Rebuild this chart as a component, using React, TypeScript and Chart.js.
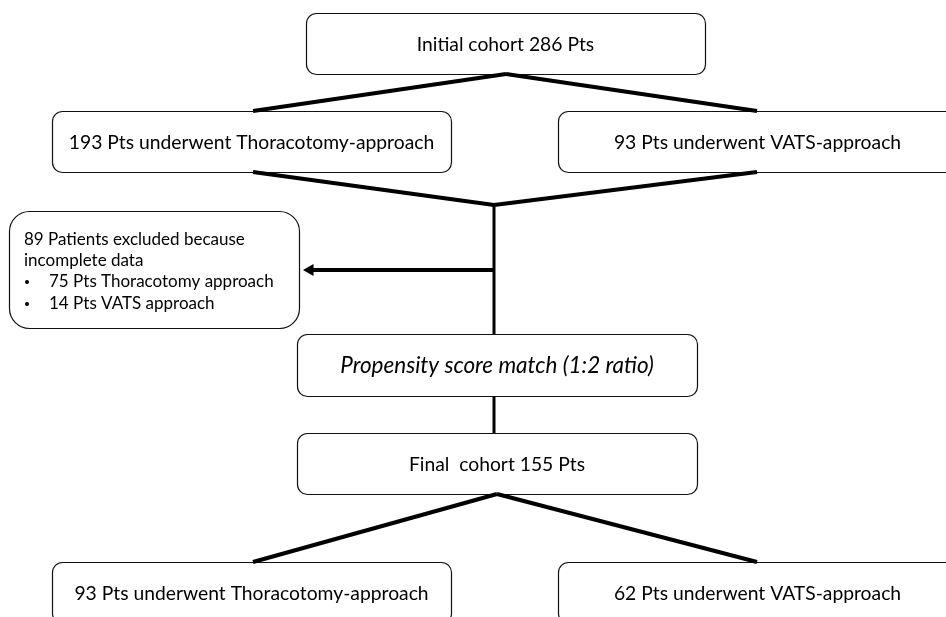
import React, { useEffect, useRef } from "react";
import { Chart, registerables } from "chart.js";

Chart.register(...registerables);

// ---- Text content ----
const boxLabels = [
  "Initial cohort 286 Pts",
  "193 Pts underwent Thoracotomy-approach",
  "93 Pts underwent VATS-approach",
  "Propensity score match (1:2 ratio)",
  "Final  cohort 155 Pts",
  "93 Pts underwent Thoracotomy-approach",
  "62 Pts underwent VATS-approach",
];
const boxItalic = [false, false, false, true, false, false, false];

const exclusionTitle = ["89 Patients excluded because", "incomplete data"];
const exclusionBullets = ["75 Pts Thoracotomy approach", "14 Pts VATS approach"];

// ---- Layout (diagram units mapped through hidden linear scales) ----
const BOX_LAYOUT: number[][] = [
  [306, 13, 705, 74],
  [52, 111, 451, 172],
  [558, 111, 957, 172],
  [297, 334, 697, 396],
  [297, 433, 697, 494],
  [52, 562, 451, 623],
  [558, 562, 957, 623],
];
const BOX_TEXT_Y = [45, 143, 143, 366, 465, 594, 594];
const BOX_FONT_PX = [19.3, 19.3, 19.3, 22.5, 19.3, 19.3, 19.3];
const EXCL_BOX = [9, 211, 299, 328];
const EXCL_LINES_Y = [240, 261, 282, 304];
const EXCL_TEXT_X = 24;
const EXCL_BULLET_X = 27;
const EXCL_INDENT_X = 49;

const CONNECTORS: { pts: number[][]; w: number }[] = [
  { pts: [[506, 74], [253, 111]], w: 4 },
  { pts: [[506, 74], [757, 111]], w: 4 },
  { pts: [[253, 172], [494, 205]], w: 4 },
  { pts: [[757, 172], [494, 205]], w: 4 },
  { pts: [[494, 204], [494, 334]], w: 3 },
  { pts: [[494, 396], [494, 433]], w: 3 },
  { pts: [[497, 494], [253, 562]], w: 4 },
  { pts: [[497, 494], [757, 562]], w: 4 },
];
const ARROW = [[493, 270], [310, 270]];

const FONT = "Lato, 'Open Sans', sans-serif";

function roundRect(ctx: CanvasRenderingContext2D, x0: number, y0: number, x1: number, y1: number, r: number) {
  ctx.beginPath();
  ctx.moveTo(x0 + r, y0);
  ctx.lineTo(x1 - r, y0);
  ctx.arcTo(x1, y0, x1, y0 + r, r);
  ctx.lineTo(x1, y1 - r);
  ctx.arcTo(x1, y1, x1 - r, y1, r);
  ctx.lineTo(x0 + r, y1);
  ctx.arcTo(x0, y1, x0, y1 - r, r);
  ctx.lineTo(x0, y0 + r);
  ctx.arcTo(x0, y0, x0 + r, y0, r);
  ctx.closePath();
}

const flowPlugin = {
  id: "flowBoxes",
  beforeDatasetsDraw(chart: any) {
    const { ctx } = chart;
    const xs = chart.scales.x;
    const ys = chart.scales.y;
    ctx.save();
    ctx.lineWidth = 1.2;
    ctx.strokeStyle = "#111";
    ctx.fillStyle = "#fff";
    const all = [...BOX_LAYOUT.map((b) => ({ b, r: 10 })), { b: EXCL_BOX, r: 20 }];
    all.forEach(({ b, r }) => {
      const x0 = Math.round(xs.getPixelForValue(b[0])) + 0.5;
      const x1 = Math.round(xs.getPixelForValue(b[2])) + 0.5;
      const y0 = Math.round(ys.getPixelForValue(b[1])) + 0.5;
      const y1 = Math.round(ys.getPixelForValue(b[3])) + 0.5;
      roundRect(ctx, x0, y0, x1, y1, r);
      ctx.fill();
      ctx.stroke();
    });
    ctx.restore();
  },
  afterDraw(chart: any) {
    const { ctx } = chart;
    const xs = chart.scales.x;
    const ys = chart.scales.y;
    ctx.save();
    ctx.fillStyle = "#000";
    ctx.textBaseline = "middle";
    ctx.textAlign = "center";
    boxLabels.forEach((label, i) => {
      const b = BOX_LAYOUT[i];
      const cx = xs.getPixelForValue((b[0] + b[2]) / 2);
      const cy = ys.getPixelForValue(BOX_TEXT_Y[i]);
      ctx.font = (boxItalic[i] ? "italic " : "") + BOX_FONT_PX[i] + "px " + FONT;
      ctx.fillText(label, cx, cy);
    });
    ctx.textAlign = "left";
    ctx.font = "17px " + FONT;
    exclusionTitle.forEach((t, i) => {
      ctx.fillText(t, xs.getPixelForValue(EXCL_TEXT_X), ys.getPixelForValue(EXCL_LINES_Y[i]));
    });
    exclusionBullets.forEach((t, i) => {
      const y = ys.getPixelForValue(EXCL_LINES_Y[i + 2]);
      ctx.beginPath();
      ctx.arc(xs.getPixelForValue(EXCL_BULLET_X), y, 2, 0, Math.PI * 2);
      ctx.fill();
      ctx.fillText(t, xs.getPixelForValue(EXCL_INDENT_X), y);
    });
    ctx.restore();
  },
};

export default function App() {
  const ref = useRef<HTMLCanvasElement | null>(null);
  useEffect(() => {
    document.body.style.margin = "0";
    if (!ref.current) return;
    const datasets: any[] = CONNECTORS.map((c) => ({
      data: c.pts.map((p) => ({ x: p[0], y: p[1] })),
      showLine: true,
      borderColor: "#000",
      borderWidth: c.w,
      pointRadius: 0,
      borderCapStyle: "butt",
      clip: false,
    }));
    datasets.push({
      data: ARROW.map((p) => ({ x: p[0], y: p[1] })),
      showLine: true,
      borderColor: "#000",
      borderWidth: 4,
      pointRadius: [0, 7],
      pointStyle: "triangle",
      rotation: -90,
      pointBackgroundColor: "#000",
      pointBorderColor: "#000",
      pointBorderWidth: 0,
      clip: false,
    });
    const chart = new Chart(ref.current, {
      type: "scatter",
      data: { datasets },
      options: {
        animation: false,
        responsive: false,
        maintainAspectRatio: false,
        layout: { padding: 0, autoPadding: false },
        events: [],
        scales: {
          x: { type: "linear", min: 0, max: 946, display: false },
          y: { type: "linear", min: 0, max: 617, reverse: true, display: false },
        },
        plugins: { legend: { display: false }, tooltip: { enabled: false } },
      },
      plugins: [flowPlugin],
    });
    return () => chart.destroy();
  }, []);
  return (
    <div style={{ width: 946, height: 617, background: "#fff" }}>
      <canvas ref={ref} width={946} height={617} style={{ display: "block" }} />
    </div>
  );
}
